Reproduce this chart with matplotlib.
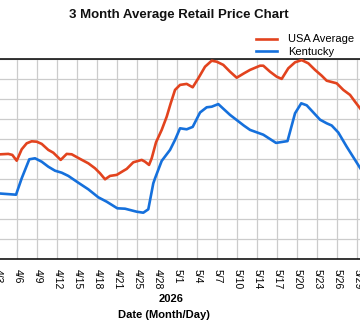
import matplotlib
matplotlib.use("Agg")
import matplotlib.pyplot as plt

plt.rcParams['font.family'] = ['Liberation Sans', 'DejaVu Sans']

# x positions in days from 4/3, values in chart grid units
usa_day = [-0.05, 1.65, 2.25, 2.91, 3.66, 4.41, 5.16, 5.91, 6.66, 7.65, 8.40, 9.51, 10.41, 11.16,
           12.41, 13.65, 14.66, 15.41, 16.16, 16.91, 17.91, 18.90, 19.41, 20.40, 21.66, 22.16,
           22.76, 23.16, 23.81, 24.66, 25.41, 26.01, 26.66, 27.41, 28.41, 29.31, 30.15, 31.16,
           32.16, 32.91, 33.90, 34.91, 35.91, 37.01, 37.91, 39.41, 39.90, 40.91, 41.91, 42.66,
           43.65, 44.66, 45.66, 46.65, 47.66, 48.66, 49.41, 50.91, 51.90, 52.91, 53.66, 54.71]
usa_val = [5.24, 5.27, 5.22, 4.93, 5.50, 5.80, 5.90, 5.88, 5.77, 5.47, 5.33, 4.97, 5.27, 5.25,
           5.02, 4.80, 4.55, 4.30, 4.00, 4.17, 4.22, 4.42, 4.52, 4.85, 4.97, 4.88,
           4.72, 5.05, 5.85, 6.47, 7.13, 7.80, 8.47, 8.72, 8.77, 8.60, 9.05, 9.63,
           9.93, 9.88, 9.72, 9.38, 9.08, 9.30, 9.47, 9.68, 9.68, 9.38, 9.13, 9.02,
           9.55, 9.85, 9.96, 9.80, 9.47, 9.18, 8.93, 8.80, 8.47, 8.22, 7.88, 7.42]

ky_day = [-0.05, 2.81, 3.66, 4.80, 5.66, 6.66, 7.65, 8.66, 9.66, 10.65, 12.15, 13.65, 15.15,
          16.41, 18.00, 19.16, 20.91, 21.90, 22.65, 23.40, 23.66, 24.66, 25.91, 26.66, 27.41,
          28.41, 29.31, 30.41, 31.41, 32.16, 33.15, 34.91, 37.01, 37.91, 39.90, 41.81, 43.53,
          44.66, 45.59, 46.41, 48.41, 49.41, 50.16, 51.15, 52.41, 54.30, 54.71]
ky_val = [3.30, 3.23, 4.05, 5.00, 5.05, 4.88, 4.63, 4.43, 4.33, 4.17, 3.83, 3.50, 3.10,
          2.88, 2.55, 2.53, 2.38, 2.33, 2.50, 3.80, 4.05, 4.92, 5.47, 5.97, 6.55,
          6.50, 6.62, 7.34, 7.60, 7.63, 7.76, 7.22, 6.68, 6.47, 6.23, 5.82, 5.91,
          7.30, 7.80, 7.70, 6.98, 6.80, 6.69, 6.34, 5.63, 4.63, 4.42]

tick_days = [0, 3, 6, 9, 12, 15, 18, 21, 24, 27, 30, 33, 36, 39, 42, 45, 48, 51, 54]
tick_labels = ['4/3', '4/6', '4/9', '4/12', '4/15', '4/18', '4/21', '4/25', '4/28', '5/1',
               '5/4', '5/7', '5/10', '5/14', '5/17', '5/20', '5/23', '5/26', '5/29']

series_names = ['USA Average', 'Kentucky']
colors = ['#e2431e', '#1570dc']

W, H = 360, 325
fig = plt.figure(figsize=(W / 100, H / 100), dpi=100)
fig.patch.set_facecolor('white')

# axes extends past the left and right edges of the picture (cropped chart)
px_l, px_r = -36, 396
ax = fig.add_axes([px_l / W, (H - 259.3) / H, (px_r - px_l) / W, 200 / H])
ax.set_xlim((px_l + 2.7) * 0.15, (px_r + 2.7) * 0.15)
ax.set_ylim(0, 10)

ax.plot(usa_day, usa_val, color=colors[0], lw=1.9, label=series_names[0], zorder=3,
        solid_joinstyle='round')
ax.plot(ky_day, ky_val, color=colors[1], lw=1.9, label=series_names[1], zorder=3,
        solid_joinstyle='round')

ax.set_xticks(tick_days)
ax.set_xticklabels(tick_labels, rotation=270, fontsize=7.5, va='top', ha='center')
ax.set_yticks(range(0, 11))
ax.set_yticklabels([])
ax.tick_params(axis='both', length=0)
ax.tick_params(axis='x', pad=7)
ax.grid(True, color='#cccccc', lw=0.9, zorder=0)
ax.set_axisbelow(True)
for s in ['left', 'right']:
    ax.spines[s].set_visible(False)
for s in ['top', 'bottom']:
    ax.spines[s].set_color('black')
    ax.spines[s].set_linewidth(1.1)

fig.text(179 / W, 1 - 15 / H, '3 Month Average Retail Price Chart', ha='center', va='center',
         fontsize=9.5, fontweight='bold', color='#111111')
fig.text(171.5 / W, 1 - 299 / H, '2026', ha='center', va='center', fontsize=8,
         fontweight='bold')
fig.text(164 / W, 1 - 315 / H, 'Date (Month/Day)', ha='center', va='center', fontsize=8,
         fontweight='bold')

fig.legend(loc='upper left', bbox_to_anchor=(256 / W, 1 - 34.5 / H), frameon=False,
           fontsize=8, handlelength=1.9, handletextpad=1.0, borderpad=0, borderaxespad=0,
           labelspacing=0.22)

fig.savefig('out.png', dpi=100)
